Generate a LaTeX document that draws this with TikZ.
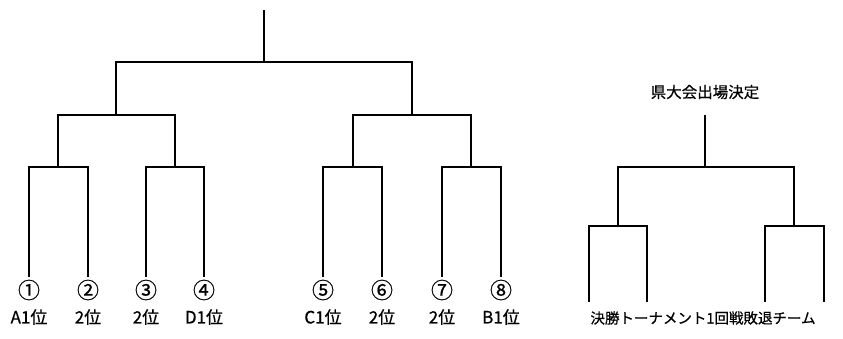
\documentclass[tikz,border=0pt]{standalone}
\usepackage{fontspec}
\usepackage{tikz}
\newfontfamily\jpfont[FakeBold=0.6]{Noto Sans CJK JP}
\tikzset{
  bracket/.style={draw=black, line width=1.3pt},
  num/.style={font=\jpfont\fontsize{22}{24}\selectfont, inner sep=0pt},
  lab/.style={font=\jpfont\fontsize{17}{20}\selectfont, inner sep=0pt},
  title/.style={font=\jpfont\fontsize{15.5}{18}\selectfont, inner sep=0pt},
  note/.style={font=\jpfont\fontsize{14.5}{17}\selectfont, inner sep=0pt},
}

\begin{document}
\begin{tikzpicture}[x=1pt,y=-1pt]
  \useasboundingbox (0,0) rectangle (843,338);
  % main tournament
  \foreach \i/\x/\t in {1/29/A1位, 2/88/2位, 3/146/2位, 4/204/D1位,
                        5/323/C1位, 6/382/2位, 7/442/2位, 8/501/B1位}{
    \coordinate (L\i) at (\x,277);
    \node[num] (N\i) at (\x,290) {\ifcase\i\or ①\or ②\or ③\or ④\or ⑤\or ⑥\or ⑦\or ⑧\fi};
    \node[lab] (T\i) at (\x,317) {\t};
  }
  \coordinate (P1) at (58,167);
  \coordinate (P2) at (175,167);
  \coordinate (P3) at (353,167);
  \coordinate (P4) at (471,167);
  \coordinate (Q1) at (116,115);
  \coordinate (Q2) at (412,115);
  \coordinate (R) at (264,62);
  \coordinate (top) at (264,10);
  \draw[bracket] (L1) |- (P1) -| (L2);
  \draw[bracket] (L3) |- (P2) -| (L4);
  \draw[bracket] (L5) |- (P3) -| (L6);
  \draw[bracket] (L7) |- (P4) -| (L8);
  \draw[bracket] (P1) |- (Q1) -| (P2);
  \draw[bracket] (P3) |- (Q2) -| (P4);
  \draw[bracket] (Q1) |- (R) -| (Q2);
  \draw[bracket] (R) -- (top);
  % prefectural qualifier
  \node[title] (win) at (705,92) {県大会出場決定};
  \coordinate (W1) at (589,302);
  \coordinate (W2) at (647,302);
  \coordinate (W3) at (765,302);
  \coordinate (W4) at (824,302);
  \coordinate (S1) at (618,226);
  \coordinate (S2) at (794,226);
  \coordinate (F) at (705,167);
  \coordinate (Ftop) at (705,115);
  \draw[bracket] (W1) |- (S1) -| (W2);
  \draw[bracket] (W3) |- (S2) -| (W4);
  \draw[bracket] (S1) |- (F) -| (S2);
  \draw[bracket] (F) -- (Ftop);
  \node[note] (lose) at (703,318) {決勝トーナメント1回戦敗退チーム};
\end{tikzpicture}
\end{document}
